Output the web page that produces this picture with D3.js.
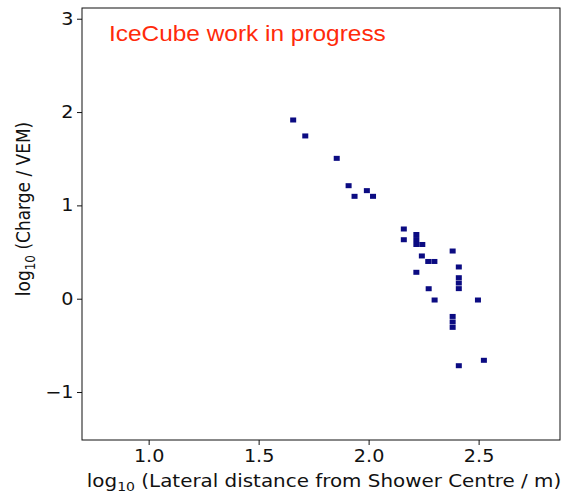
<!DOCTYPE html>
<html>
<head>
<meta charset="utf-8">
<script src="https://cdn.jsdelivr.net/npm/d3@7"></script>
<style>
  body { margin: 0; background: #fff; }
  text { font-family: "DejaVu Sans", sans-serif; }
</style>
</head>
<body>
<div id="viz"></div>
<script>
// log10 lateral distance (bin centres) and log10 charge for each filled bin
const xVals = [1.657, 1.712, 1.855, 1.909, 1.936, 1.992, 2.020,
               2.160, 2.160, 2.217, 2.217, 2.217, 2.244, 2.242, 2.271, 2.299, 2.217,
               2.382, 2.410, 2.410, 2.410, 2.410, 2.273, 2.300, 2.497,
               2.382, 2.382, 2.382, 2.524, 2.410];
const yVals = [1.915, 1.744, 1.504, 1.211, 1.097, 1.158, 1.097,
               0.747, 0.632, 0.688, 0.634, 0.581, 0.581, 0.458, 0.399, 0.399, 0.283,
               0.511, 0.340, 0.225, 0.168, 0.108, 0.107, -0.014, -0.014,
               -0.190, -0.249, -0.307, -0.660, -0.718];
const xTicks = [1.0, 1.5, 2.0, 2.5];
const yTicks = [-1, 0, 1, 2, 3];

const binW = 0.0273, binH = 0.0536;

const width = 561, height = 494;
const margin = {left: 82, right: 1, top: 8, bottom: 54};
const sx = 1.13; // text looks horizontally stretched in the original

const svg = d3.select("#viz").append("svg")
    .attr("width", width)
    .attr("height", height);

const x = d3.scaleLinear()
    .domain([0.697, 2.87])
    .range([margin.left, width - margin.right]);

const y = d3.scaleLinear()
    .domain([-1.514, 3.115])
    .range([height - margin.bottom, margin.top]);

const points = xVals.map((v, i) => ({x: v, y: yVals[i]}));

svg.selectAll(".bin")
    .data(points)
    .join("rect")
        .attr("class", "bin")
        .attr("x", d => x(d.x - binW / 2))
        .attr("y", d => y(d.y + binH / 2))
        .attr("width", d => x(d.x + binW / 2) - x(d.x - binW / 2))
        .attr("height", d => y(d.y - binH / 2) - y(d.y + binH / 2))
        .attr("fill", "#0b0b82");

const xAxis = svg.append("g")
    .attr("transform", `translate(0,${height - margin.bottom})`)
    .call(d3.axisBottom(x).tickValues(xTicks).tickFormat(d3.format(".1f")).tickSize(5).tickPadding(5));

const yAxis = svg.append("g")
    .attr("transform", `translate(${margin.left},0)`)
    .call(d3.axisLeft(y).tickValues(yTicks).tickFormat(d => d < 0 ? "\u2212" + Math.abs(d) : d).tickSize(5).tickPadding(2.5));

[xAxis, yAxis].forEach(g => {
    g.select(".domain").remove();
    g.selectAll("text")
        .style("font-size", "17px")
        .attr("fill", "#111")
        .attr("transform", `scale(${sx},1)`);
    g.selectAll("line").attr("stroke", "#111");
});

// frame
svg.append("rect")
    .attr("x", margin.left)
    .attr("y", margin.top)
    .attr("width", width - margin.right - margin.left)
    .attr("height", height - margin.bottom - margin.top)
    .attr("fill", "none")
    .attr("stroke", "#111")
    .attr("stroke-width", 1);

// axis labels
const xl = svg.append("text")
    .attr("transform", `translate(324,487) scale(1.17,1)`)
    .attr("text-anchor", "middle")
    .style("font-size", "17px")
    .attr("fill", "#111");
xl.append("tspan").text("log");
xl.append("tspan").attr("dy", 4).style("font-size", "12px").text("10");
xl.append("tspan").attr("dy", -4).text(" (Lateral distance from Shower Centre / m)");

const yl = svg.append("text")
    .attr("transform", `translate(30,209) rotate(-90) scale(1,${sx})`)
    .attr("text-anchor", "middle")
    .style("font-size", "17px")
    .attr("fill", "#111");
yl.append("tspan").text("log");
yl.append("tspan").attr("dy", 4).style("font-size", "12px").text("10");
yl.append("tspan").attr("dy", -4).text(" (Charge / VEM)");

svg.append("text")
    .attr("transform", `translate(109,41) scale(1.11,1)`)
    .style("font-family", "'Liberation Sans', Arial, sans-serif")
    .style("font-size", "22px")
    .attr("fill", "#ff2a0a")
    .text("IceCube work in progress");
</script>
</body>
</html>
